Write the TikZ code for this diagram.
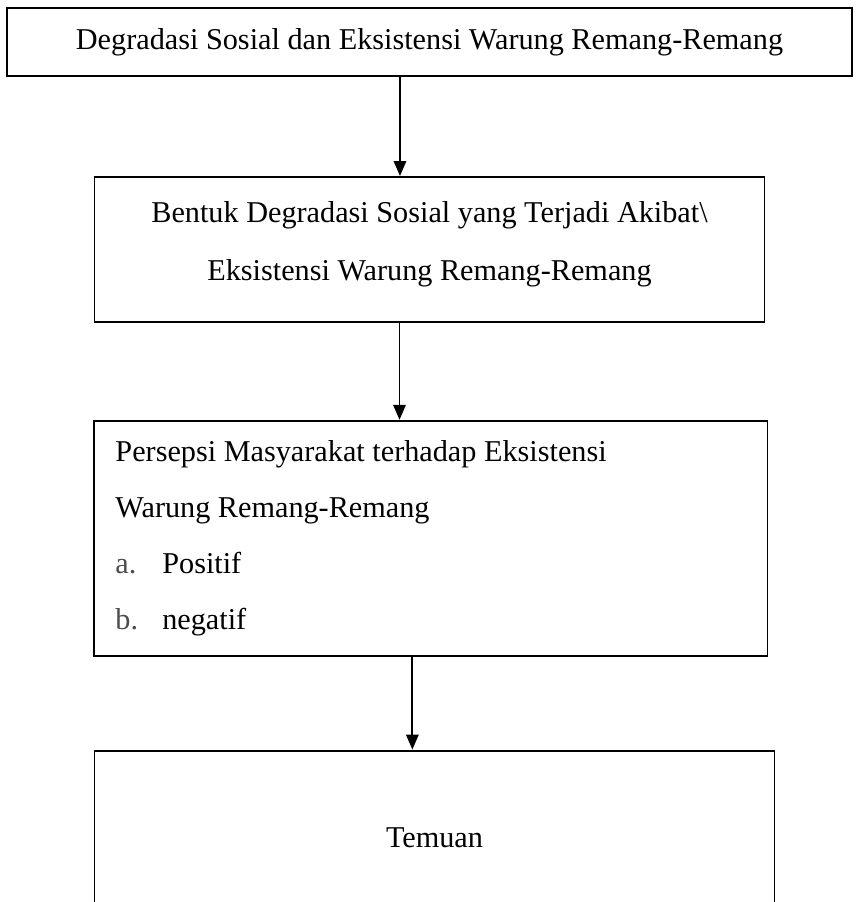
\documentclass[tikz,border=0pt]{standalone}
\usepackage{fontspec}
\setmainfont{Liberation Serif}
\usetikzlibrary{arrows.meta, positioning}

\begin{document}
\begin{tikzpicture}[
        x=0.42pt, y=0.42pt,
        % Gaya kotak
        kotak/.style={
                rectangle,
                draw=black,
                line width=0.8pt,
                inner sep=0pt,
                align=flush center,
                font=\fontsize{12.7}{24.4}\selectfont
            },
        % Panah
        panah/.style={
                -{Triangle[length=6.3pt,width=5.2pt]},
                line width=0.8pt,
                color=black
            }
    ]

    \clip (0,0) rectangle (855,902);

    % Judul
    \node[kotak, minimum width=355pt, minimum height=28.6pt] (judul) at (429.5,860)
        {Degradasi Sosial dan Eksistensi Warung Remang-Remang};

    % Kotak-kotak berikutnya
    \node[kotak, below=41.6pt of judul, minimum width=281.4pt, minimum height=60.9pt,
        text width=270pt] (bentuk) {
        Bentuk Degradasi Sosial yang Terjadi Akibat\textbackslash\\
        Eksistensi Warung Remang-Remang\\[-17pt]\mbox{}
    };

    \node[kotak, below=40.7pt of bentuk, xshift=0.6pt, minimum width=282.7pt, minimum height=98.7pt,
        text width=265pt, align=flush left, font=\fontsize{12.7}{23.5}\selectfont] (persepsi) {
        Persepsi Masyarakat terhadap Eksistensi\\
        Warung Remang-Remang\\
        \makebox[1.55em][l]{\textcolor{black!70}{a.}}Positif\\
        \makebox[1.55em][l]{\textcolor{black!70}{b.}}negatif
    };

    \node[kotak, below=39pt of persepsi, xshift=1.5pt, minimum width=285.6pt, minimum height=73.5pt] (temuan)
        {Temuan};

    % Panah antar kotak
    \draw[panah] ([xshift=-12.4pt]judul.south) -- ([xshift=-12.4pt]judul.south |- bentuk.north);
    \draw[panah] ([xshift=-12.6pt]bentuk.south) -- ([xshift=-12.6pt]bentuk.south |- persepsi.north);
    \draw[panah] ([xshift=-7.8pt]persepsi.south) -- ([xshift=-7.8pt]persepsi.south |- temuan.north);

\end{tikzpicture}
\end{document}
